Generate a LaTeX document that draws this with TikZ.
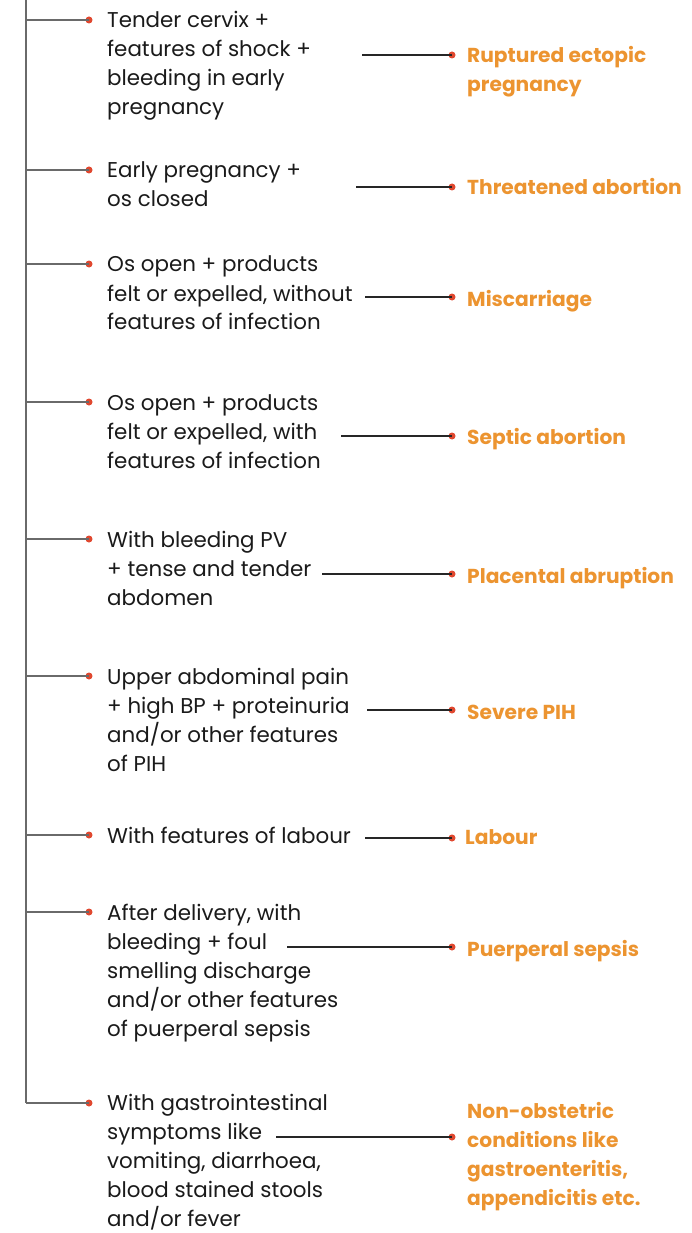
\documentclass[tikz,border=0pt]{standalone}
\usepackage{fontspec}
\setmainfont{Poppins}
\definecolor{trunk}{HTML}{6A6A6A}
\definecolor{dotred}{HTML}{E0482F}
\definecolor{outorange}{HTML}{EC9430}
\definecolor{txt}{HTML}{1A1A1A}
\tikzset{
  branch/.style={draw=trunk, line width=1.4pt},
  link/.style={draw=black!85, line width=1.1pt},
  reddot/.style={circle, fill=dotred, inner sep=0pt, minimum size=7pt},
  cond/.style={anchor=base west, inner sep=0pt, text=txt, font=\fontsize{21.4}{29}\selectfont},
  dx/.style={anchor=base west, inner sep=0pt, text=outorange, font=\fontsize{20.2}{29}\selectfont\bfseries},
}
\newcommand{\lines}[1]{\begin{tabular}[t]{@{}l@{}}#1\end{tabular}}
\begin{document}
\begin{tikzpicture}[x=1pt,y=-1pt]
\useasboundingbox (0,0) rectangle (691,1233);
% trunk
\coordinate (top) at (26,0);
\coordinate (bot) at (26,1103);
\draw[branch] (top) -- (bot);
% items: branch y, connector y, connector start x
\foreach \i/\by/\cy/\cx in {1/20/55/362, 2/170/187/356, 3/264/297/365, 4/402/436/341, 5/539/574/322, 6/676/710/367, 7/835/838/365, 8/912/947/287, 9/1103/1137/276}{
  \coordinate (b\i) at (26,\by);
  \node[reddot] (ld\i) at (89,\by) {};
  \draw[branch] (b\i) -- (ld\i.center);
  \coordinate (c\i) at (\cx,\cy);
  \node[reddot] (rd\i) at (452,\cy) {};
  \draw[link] (c\i) -- (rd\i.center);
}
% left conditions
\node[cond] (l1) at (107,28) {\lines{Tender cervix +\\features of shock +\\bleeding in early\\pregnancy}};
\node[cond] (l2) at (107,178) {\lines{Early pregnancy +\\os closed}};
\node[cond] (l3) at (107,272) {\lines{Os open + products\\felt or expelled, without\\features of infection}};
\node[cond] (l4) at (107,410) {\lines{Os open + products\\felt or expelled, with\\features of infection}};
\node[cond] (l5) at (107,547) {\lines{With bleeding PV\\+ tense and tender\\abdomen}};
\node[cond] (l6) at (107,684) {\lines{Upper abdominal pain\\+ high BP + proteinuria\\and/or other features\\of PIH}};
\node[cond] (l7) at (107,843) {\lines{With features of labour}};
\node[cond] (l8) at (107,920) {\lines{After delivery, with\\bleeding + foul\\smelling discharge\\and/or other features\\of puerperal sepsis}};
\node[cond] (l9) at (107,1110.5) {\lines{With gastrointestinal\\symptoms like\\vomiting, diarrhoea,\\blood stained stools\\and/or fever}};
% right diagnoses
\node[dx] (r1) at (467,63) {\lines{Ruptured ectopic\\pregnancy}};
\node[dx] (r2) at (467,195) {\lines{Threatened abortion}};
\node[dx] (r3) at (467,306) {\lines{Miscarriage}};
\node[dx] (r4) at (467,444) {\lines{Septic abortion}};
\node[dx] (r5) at (467,583) {\lines{Placental abruption}};
\node[dx] (r6) at (467,719) {\lines{Severe PIH}};
\node[dx] (r7) at (465,844) {\lines{Labour}};
\node[dx] (r8) at (467,956) {\lines{Puerperal sepsis}};
\node[dx] (r9) at (467,1118) {\lines{Non-obstetric\\conditions like\\gastroenteritis,\\appendicitis etc.}};
\end{tikzpicture}
\end{document}
